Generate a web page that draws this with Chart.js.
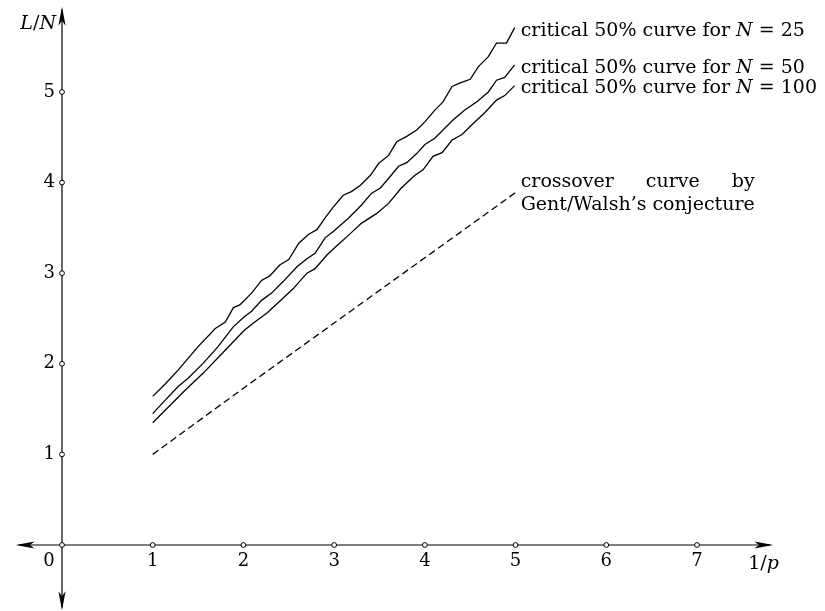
<!DOCTYPE html>
<html>
<head>
<meta charset="utf-8">
<script src="https://cdn.jsdelivr.net/npm/chart.js@4/dist/chart.umd.min.js"></script>
<style>
html,body{margin:0;padding:0;background:#fff;}
#wrap{width:825px;height:611px;}
</style>
</head>
<body>
<div id="wrap"><canvas id="c" width="825" height="611"></canvas></div>
<script>
// ---- data ----
const x25 = [1.00,1.14,1.28,1.50,1.69,1.80,1.89,1.96,2.09,2.20,2.29,2.40,2.50,2.61,2.72,2.81,2.90,2.99,3.10,3.19,3.29,3.40,3.49,3.60,3.69,3.80,3.91,4.00,4.11,4.20,4.30,4.39,4.50,4.59,4.70,4.79,4.90,4.99];
const y25 = [1.64,1.78,1.93,2.19,2.39,2.46,2.62,2.65,2.78,2.92,2.97,3.09,3.15,3.33,3.43,3.48,3.61,3.73,3.86,3.90,3.97,4.08,4.21,4.30,4.45,4.51,4.58,4.67,4.80,4.89,5.06,5.10,5.14,5.28,5.39,5.54,5.54,5.71];
const x50 = [1.00,1.12,1.28,1.39,1.56,1.72,1.89,2.01,2.09,2.20,2.31,2.44,2.59,2.70,2.79,2.90,2.99,3.16,3.30,3.41,3.51,3.62,3.71,3.80,3.91,4.00,4.11,4.20,4.31,4.44,4.57,4.70,4.79,4.88,4.99];
const y50 = [1.45,1.58,1.75,1.84,2.01,2.19,2.41,2.52,2.58,2.70,2.78,2.91,3.07,3.16,3.22,3.39,3.46,3.61,3.75,3.88,3.94,4.07,4.18,4.22,4.32,4.42,4.49,4.58,4.69,4.80,4.89,5.00,5.13,5.16,5.30];
const x100 = [1.00,1.14,1.36,1.56,1.78,2.01,2.11,2.26,2.40,2.55,2.70,2.79,2.92,3.06,3.16,3.30,3.47,3.60,3.74,3.89,3.98,4.09,4.19,4.30,4.41,4.53,4.66,4.79,4.88,4.99];
const y100 = [1.35,1.49,1.71,1.90,2.13,2.37,2.45,2.56,2.69,2.83,3.00,3.05,3.20,3.33,3.42,3.55,3.66,3.77,3.94,4.08,4.14,4.29,4.33,4.47,4.53,4.65,4.77,4.91,4.96,5.07];
const xCross = [1,2,3,4,5];
const yCross = [1.00,1.73,2.45,3.17,3.89];

const xTicks = [1,2,3,4,5,6,7];
const yTicks = [1,2,3,4,5];
const xTickLabels = ['1','2','3','4','5','6','7'];
const yTickLabels = ['1','2','3','4','5'];
const originLabel = '0';

const label25 = [['critical 50% curve for ',false],['N',true],[' = 25',false]];
const label50 = [['critical 50% curve for ',false],['N',true],[' = 50',false]];
const label100 = [['critical 50% curve for ',false],['N',true],[' = 100',false]];
const crossLine1 = ['crossover','curve','by'];
const crossLine2 = 'Gent/Walsh\u2019s conjecture';
const yAxisTitle = [['L',true],['/',false],['N',true]];
const xAxisTitle = [['1/',false],['p',true]];

// visible axis extents (data units)
const xAxisFrom = -0.51, xAxisTo = 7.84;
const yAxisFrom = -0.72, yAxisTo = 5.94;

const pts = (xs, ys) => xs.map((x, i) => ({x: x, y: ys[i]}));

const FONT = '"DejaVu Serif", "Liberation Serif", serif';
const FS = 18;   // tick labels
const LFS = 19;  // curve labels

function richWidth(ctx, segs, size) {
  let w = 0;
  for (const [t, it] of segs) { ctx.font = (it ? 'italic ' : '') + size + 'px ' + FONT; w += ctx.measureText(t).width; }
  return w;
}
function drawRich(ctx, segs, x, y, size, align) {
  let cx = x;
  if (align === 'right') cx = x - richWidth(ctx, segs, size);
  if (align === 'center') cx = x - richWidth(ctx, segs, size) / 2;
  ctx.textAlign = 'left';
  for (const [t, it] of segs) {
    ctx.font = (it ? 'italic ' : '') + size + 'px ' + FONT;
    ctx.fillText(t, cx, y);
    cx += ctx.measureText(t).width;
  }
}
function arrow(ctx, tx, ty, dx, dy) {
  const L = 19, H = 3.6, N = 14;
  const px = -dy, py = dx;
  ctx.beginPath();
  ctx.moveTo(tx, ty);
  ctx.lineTo(tx - dx * L + px * H, ty - dy * L + py * H);
  ctx.lineTo(tx - dx * N, ty - dy * N);
  ctx.lineTo(tx - dx * L - px * H, ty - dy * L - py * H);
  ctx.closePath();
  ctx.fill();
}

const decor = {
  id: 'decor',
  beforeDatasetsDraw(chart) {
    const ctx = chart.ctx, xs = chart.scales.x, ys = chart.scales.y;
    const X = v => xs.getPixelForValue(v), Y = v => ys.getPixelForValue(v);
    const ox = X(0), oy = Y(0);
    ctx.save();
    ctx.strokeStyle = '#000'; ctx.fillStyle = '#000'; ctx.lineWidth = 1.2;
    ctx.beginPath();
    ctx.moveTo(X(xAxisFrom) + 3, oy); ctx.lineTo(X(xAxisTo) - 3, oy);
    ctx.moveTo(ox, Y(yAxisFrom) - 3); ctx.lineTo(ox, Y(yAxisTo) + 3);
    ctx.stroke();
    arrow(ctx, X(xAxisTo), oy, 1, 0);
    arrow(ctx, X(xAxisFrom), oy, -1, 0);
    arrow(ctx, ox, Y(yAxisTo), 0, -1);
    arrow(ctx, ox, Y(yAxisFrom), 0, 1);
    ctx.restore();
  },
  afterDatasetsDraw(chart) {
    const ctx = chart.ctx, xs = chart.scales.x, ys = chart.scales.y;
    const X = v => xs.getPixelForValue(v), Y = v => ys.getPixelForValue(v);
    const ox = X(0), oy = Y(0);
    ctx.save();
    ctx.fillStyle = '#000'; ctx.strokeStyle = '#000'; ctx.lineWidth = 1;
    const dot = (x, y) => { ctx.beginPath(); ctx.arc(x, y, 2.4, 0, Math.PI * 2); ctx.fillStyle = '#fff'; ctx.fill(); ctx.stroke(); ctx.fillStyle = '#000'; };
    dot(ox, oy);
    xTicks.forEach(v => dot(X(v), oy));
    yTicks.forEach(v => dot(ox, Y(v)));
    ctx.font = FS + 'px ' + FONT;
    ctx.textBaseline = 'middle';
    ctx.textAlign = 'center';
    xTicks.forEach((v, i) => ctx.fillText(xTickLabels[i], X(v), oy + 16));
    ctx.textAlign = 'right';
    yTicks.forEach((v, i) => ctx.fillText(yTickLabels[i], ox - 7, Y(v)));
    ctx.textAlign = 'center';
    ctx.fillText(originLabel, ox - 13, oy + 16);
    ctx.textBaseline = 'alphabetic';
    drawRich(ctx, yAxisTitle, ox - 6, Y(yAxisTo) + 22, LFS, 'right');
    drawRich(ctx, xAxisTitle, X(xAxisTo) - 25, oy + 24, LFS, 'left');
    // curve labels
    const lx = X(x25[x25.length - 1]) + 6;
    drawRich(ctx, label25, lx, Y(y25[y25.length - 1]) + 8, LFS, 'left');
    drawRich(ctx, label50, lx, Y(y50[y50.length - 1]) + 8, LFS, 'left');
    drawRich(ctx, label100, lx, Y(y100[y100.length - 1]) + 7, LFS, 'left');
    // crossover label, justified
    ctx.font = LFS + 'px ' + FONT;
    ctx.textAlign = 'left';
    const w2 = ctx.measureText(crossLine2).width;
    const ly2 = Y(yCross[yCross.length - 1]) + 17;
    ctx.fillText(crossLine2, lx, ly2);
    const ws = crossLine1.map(w => ctx.measureText(w).width);
    const gap = (w2 - ws.reduce((a, b) => a + b, 0)) / (crossLine1.length - 1);
    let cx = lx;
    crossLine1.forEach((w, i) => { ctx.fillText(w, cx, ly2 - 23); cx += ws[i] + gap; });
    ctx.restore();
  }
};

const lineDs = (xs, ys, dash) => ({
  data: pts(xs, ys), borderColor: '#000', borderWidth: 1.3, pointRadius: 0,
  tension: 0, fill: false, borderDash: dash || []
});

new Chart(document.getElementById('c'), {
  type: 'line',
  data: { datasets: [
    lineDs(x25, y25), lineDs(x50, y50), lineDs(x100, y100), lineDs(xCross, yCross, [7, 4])
  ]},
  options: {
    responsive: false, animation: false, parsing: true,
    layout: { padding: 0 },
    plugins: { legend: { display: false }, tooltip: { enabled: false } },
    scales: {
      x: { type: 'linear', min: -0.6835, max: 8.411, display: false },
      y: { type: 'linear', min: -0.7285, max: 6.015, display: false }
    }
  },
  plugins: [decor]
});
</script>
</body>
</html>
